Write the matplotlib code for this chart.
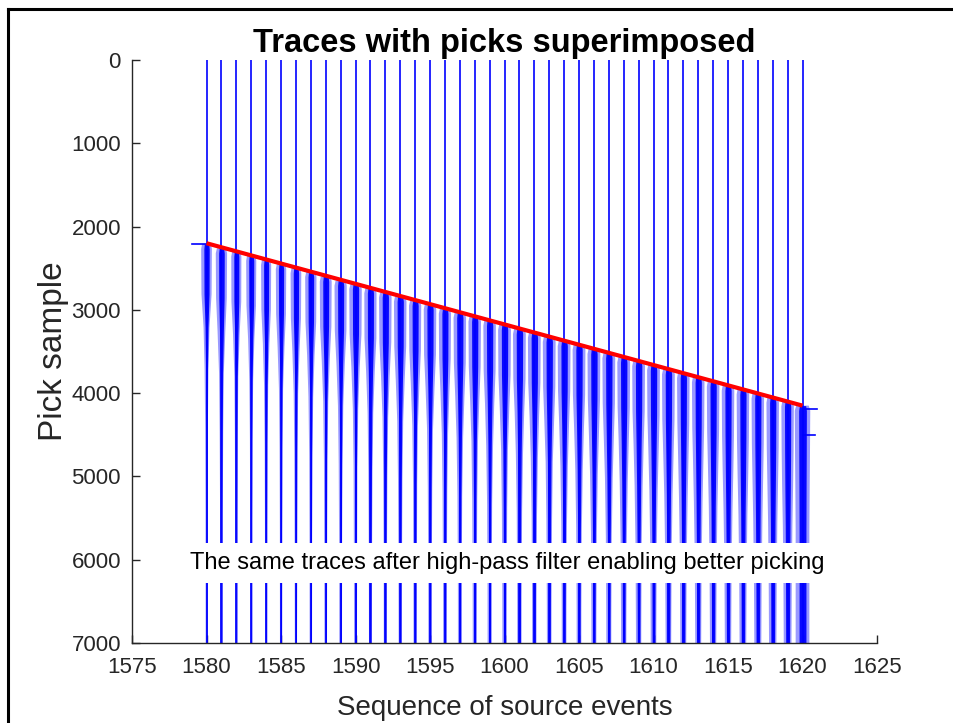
import numpy as np
import matplotlib
matplotlib.use("Agg")
import matplotlib.pyplot as plt
from matplotlib.lines import Line2D

plt.rcParams["font.family"] = ["Liberation Sans", "DejaVu Sans"]

# source events (one trace per event)
EVENTS = list(range(1580, 1621))

# picked first-arrival sample for each trace
PICKS = [2210, 2260, 2300, 2350, 2400, 2450, 2500, 2545, 2600, 2650,
         2690, 2740, 2790, 2840, 2890, 2935, 2985, 3035, 3080, 3130,
         3180, 3230, 3275, 3325, 3375, 3420, 3470, 3520, 3570, 3615,
         3665, 3715, 3760, 3810, 3860, 3910, 3955, 4005, 4055, 4100,
         4150]

# straight-line fit through the picks
FIT_EVENTS = [1580, 1620]
FIT_SAMPLES = [2200, 4150]

# samples after the pick where the trace envelope is given
ENV_OFFSETS = [0, 60, 600, 1000, 1500, 2200, 3200, 5000]

# outer half-width of each trace's wiggle envelope (x units), one row per trace
ENVELOPE = [
    [0.30, 0.36, 0.34, 0.20, 0.13, 0.09, 0.07, 0.06],  # 1580
    [0.30, 0.38, 0.36, 0.26, 0.16, 0.12, 0.09, 0.08],
    [0.28, 0.34, 0.33, 0.22, 0.13, 0.10, 0.08, 0.07],
    [0.28, 0.34, 0.32, 0.21, 0.13, 0.09, 0.07, 0.07],
    [0.28, 0.34, 0.32, 0.22, 0.14, 0.10, 0.08, 0.07],
    [0.28, 0.35, 0.33, 0.23, 0.14, 0.10, 0.08, 0.07],  # 1585
    [0.30, 0.36, 0.34, 0.24, 0.15, 0.11, 0.09, 0.07],
    [0.31, 0.38, 0.36, 0.25, 0.16, 0.11, 0.09, 0.08],
    [0.33, 0.40, 0.38, 0.27, 0.17, 0.12, 0.10, 0.08],
    [0.34, 0.41, 0.39, 0.28, 0.18, 0.13, 0.10, 0.09],
    [0.34, 0.42, 0.40, 0.28, 0.18, 0.13, 0.11, 0.09],  # 1590
    [0.34, 0.41, 0.40, 0.29, 0.19, 0.14, 0.11, 0.09],
    [0.35, 0.42, 0.40, 0.29, 0.19, 0.14, 0.11, 0.10],
    [0.35, 0.42, 0.40, 0.30, 0.20, 0.15, 0.12, 0.10],
    [0.34, 0.41, 0.39, 0.29, 0.19, 0.14, 0.12, 0.10],
    [0.35, 0.42, 0.40, 0.30, 0.20, 0.15, 0.12, 0.11],  # 1595
    [0.34, 0.41, 0.39, 0.30, 0.21, 0.16, 0.13, 0.11],
    [0.35, 0.42, 0.40, 0.31, 0.22, 0.16, 0.13, 0.12],
    [0.35, 0.42, 0.40, 0.31, 0.22, 0.17, 0.14, 0.12],
    [0.36, 0.42, 0.40, 0.31, 0.23, 0.17, 0.14, 0.13],
    [0.36, 0.43, 0.41, 0.32, 0.23, 0.18, 0.15, 0.13],  # 1600
    [0.36, 0.43, 0.41, 0.32, 0.24, 0.18, 0.15, 0.14],
    [0.36, 0.43, 0.41, 0.32, 0.24, 0.18, 0.15, 0.14],
    [0.36, 0.43, 0.41, 0.33, 0.24, 0.19, 0.16, 0.14],
    [0.36, 0.43, 0.41, 0.33, 0.25, 0.19, 0.16, 0.15],
    [0.36, 0.43, 0.41, 0.33, 0.25, 0.19, 0.16, 0.15],  # 1605
    [0.36, 0.43, 0.41, 0.34, 0.26, 0.20, 0.17, 0.15],
    [0.36, 0.43, 0.41, 0.34, 0.26, 0.20, 0.17, 0.16],
    [0.36, 0.43, 0.41, 0.34, 0.27, 0.21, 0.18, 0.16],
    [0.36, 0.43, 0.41, 0.34, 0.27, 0.21, 0.18, 0.17],
    [0.36, 0.43, 0.41, 0.35, 0.28, 0.22, 0.19, 0.17],  # 1610
    [0.36, 0.43, 0.41, 0.35, 0.28, 0.22, 0.19, 0.18],
    [0.36, 0.42, 0.40, 0.35, 0.29, 0.23, 0.20, 0.18],
    [0.36, 0.42, 0.40, 0.35, 0.29, 0.23, 0.20, 0.19],
    [0.36, 0.42, 0.40, 0.35, 0.29, 0.24, 0.21, 0.19],
    [0.36, 0.42, 0.40, 0.36, 0.30, 0.24, 0.21, 0.20],  # 1615
    [0.36, 0.42, 0.40, 0.36, 0.30, 0.25, 0.22, 0.21],
    [0.36, 0.42, 0.40, 0.36, 0.31, 0.26, 0.23, 0.22],
    [0.36, 0.42, 0.40, 0.36, 0.31, 0.27, 0.24, 0.23],
    [0.36, 0.42, 0.40, 0.37, 0.32, 0.28, 0.25, 0.24],
    [0.42, 0.52, 0.50, 0.48, 0.46, 0.46, 0.46, 0.46],  # 1620
]

# a few isolated large excursions (event, sample, horizontal extent)
SPIKES = [(1580, 2205, -0.95), (1620, 4190, 0.95), (1620, 4505, 0.85)]

X_TICKS = list(range(1575, 1630, 5))
Y_TICKS = list(range(0, 8000, 1000))

AXIS_GRAY = "#262626"
TRACE_BLUE = "#0000ff"
CORE_FRACTION = 0.5   # solid part of the envelope, rest drawn translucent

fig = plt.figure(figsize=(9.54, 7.23), dpi=100)
ax = fig.add_axes([0.1384, 0.1107, 0.7809, 0.8063])

for ev, pick, env in zip(EVENTS, PICKS, ENVELOPE):
    ax.plot([ev, ev], [0, 7000], color=TRACE_BLUE, lw=1.2, zorder=2)
    depth = np.array(ENV_OFFSETS) + pick
    half = np.array(env)
    ax.fill_betweenx(depth, ev - half, ev + half, facecolor=TRACE_BLUE,
                     alpha=0.4, lw=0, zorder=2)
    core = half * CORE_FRACTION
    ax.fill_betweenx(depth, ev - core, ev + core, color=TRACE_BLUE,
                     alpha=0.95, lw=0, zorder=2)

for ev, samp, dx in SPIKES:
    ax.plot([ev, ev + dx], [samp, samp], color=TRACE_BLUE, lw=1.2, zorder=2)

ax.plot(FIT_EVENTS, FIT_SAMPLES, color="#ff0000", lw=3.0,
        solid_capstyle="butt", zorder=3)

ax.text(1600.2, 6040,
        "The same traces after high-pass filter enabling better picking",
        ha="center", va="center", fontsize=17, color="black", zorder=5,
        bbox=dict(boxstyle="square,pad=0.4", facecolor="white",
                  edgecolor="none"))

ax.set_xlim(1575, 1625)
ax.set_ylim(7000, 0)
ax.set_xticks(X_TICKS)
ax.set_yticks(Y_TICKS)

for side in ("top", "right"):
    ax.spines[side].set_visible(False)
for side in ("left", "bottom"):
    ax.spines[side].set_color(AXIS_GRAY)
    ax.spines[side].set_linewidth(1.0)

ax.tick_params(direction="in", length=6, width=1.0, colors=AXIS_GRAY,
               labelsize=16, pad=10)
ax.tick_params(axis="y", pad=8)

ax.set_title("Traces with picks superimposed", fontsize=23.5,
             fontweight="bold", color="black", pad=6)
ax.set_xlabel("Sequence of source events", fontsize=20, color=AXIS_GRAY,
              labelpad=12)
ax.set_ylabel("Pick sample", fontsize=24, color=AXIS_GRAY, labelpad=2)

# frame edges along the top and left of the canvas
fig.add_artist(Line2D([8.5 / 954, 1.0], [1 - 8.5 / 723, 1 - 8.5 / 723],
                      color="black", lw=2.2, transform=fig.transFigure))
fig.add_artist(Line2D([8.5 / 954, 8.5 / 954], [0.0, 1 - 8.5 / 723],
                      color="black", lw=2.2, transform=fig.transFigure))

fig.savefig("out.png", dpi=100)
